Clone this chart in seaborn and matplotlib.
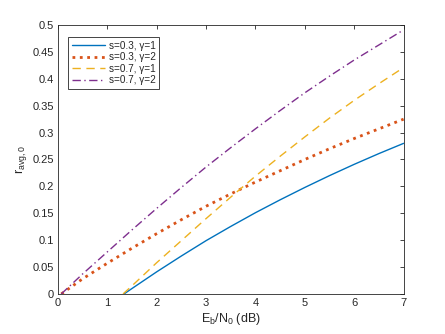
import matplotlib
matplotlib.use("Agg")
import matplotlib.pyplot as plt
import seaborn as sns

x_purple = [0.07, 0.5, 1, 1.5, 2, 2.5, 3, 3.5, 4, 4.5, 5, 5.5, 6, 6.5, 7]
y_purple = [0, 0.037, 0.078, 0.119, 0.159, 0.198, 0.236, 0.272, 0.307, 0.341, 0.374, 0.405, 0.435, 0.463, 0.491]

x_red = [0.07, 0.5, 1, 1.5, 2, 2.5, 3, 3.5, 4, 4.5, 5, 5.5, 6, 6.5, 7]
y_red = [0, 0.028, 0.057, 0.085, 0.112, 0.138, 0.163, 0.186, 0.208, 0.229, 0.250, 0.270, 0.289, 0.307, 0.325]

x_yellow = [1.32, 1.5, 2, 2.5, 3, 3.5, 4, 4.5, 5, 5.5, 6, 6.5, 7]
y_yellow = [0, 0.015, 0.058, 0.099, 0.140, 0.180, 0.219, 0.256, 0.292, 0.327, 0.360, 0.391, 0.421]

x_blue = [1.34, 1.5, 2, 2.5, 3, 3.5, 4, 4.5, 5, 5.5, 6, 6.5, 7]
y_blue = [0, 0.010, 0.041, 0.0705, 0.099, 0.1255, 0.151, 0.175, 0.198, 0.220, 0.241, 0.261, 0.280]

labels = ["s=0.3, γ=1", "s=0.3, γ=2", "s=0.7, γ=1", "s=0.7, γ=2"]
xticks = [0, 1, 2, 3, 4, 5, 6, 7]
yticks = [0, 0.05, 0.1, 0.15, 0.2, 0.25, 0.3, 0.35, 0.4, 0.45, 0.5]
yticklabels = ["0", "0.05", "0.1", "0.15", "0.2", "0.25", "0.3", "0.35", "0.4", "0.45", "0.5"]


def main():
    sns.set_style("white")
    plt.rcParams["font.family"] = ["Liberation Sans", "DejaVu Sans"]
    plt.rcParams["mathtext.fontset"] = "custom"
    plt.rcParams["mathtext.rm"] = "Liberation Sans"
    plt.rcParams["mathtext.it"] = "Liberation Sans:italic"

    fig = plt.figure(figsize=(4.45, 3.34), dpi=100)
    ax = fig.add_axes([0.13, 0.12, 0.777, 0.805])

    sns.lineplot(x=x_blue, y=y_blue, ax=ax, color="#0072BD", linewidth=1.0, label=labels[0])
    sns.lineplot(x=x_red, y=y_red, ax=ax, color="#D95319", linewidth=2.0, linestyle=":", label=labels[1])
    sns.lineplot(x=x_yellow, y=y_yellow, ax=ax, color="#EDB120", linewidth=1.0, linestyle=(0, (6, 4)), label=labels[2])
    sns.lineplot(x=x_purple, y=y_purple, ax=ax, color="#7E2F8E", linewidth=1.0, linestyle=(0, (6, 2.5, 1, 2.5)), label=labels[3])

    ax.set_xlim(0, 7)
    ax.set_ylim(0, 0.5)
    ax.set_xticks(xticks)
    ax.set_yticks(yticks)
    ax.set_yticklabels(yticklabels)
    ax.tick_params(direction="in", length=3, width=0.6, labelsize=8, colors="#262626",
                   top=True, right=True, pad=3)
    for s in ax.spines.values():
        s.set_color("#262626")
        s.set_linewidth(0.6)

    ax.set_xlabel("E$_{\\rm b}$/N$_{\\rm 0}$ (dB)", fontsize=9, color="#262626", labelpad=2)
    ax.set_ylabel("r$_{\\rm avg,0}$", fontsize=9, color="#262626", labelpad=2)

    leg = ax.legend(loc="upper left", bbox_to_anchor=(0.03, 0.955), fontsize=7.2,
                    frameon=True, fancybox=False, framealpha=1, edgecolor="#262626",
                    handlelength=3.3, handletextpad=0.4, labelspacing=0.15,
                    borderpad=0.35, borderaxespad=0)
    leg.get_frame().set_linewidth(0.6)

    fig.savefig("out.png", dpi=100)


if __name__ == "__main__":
    main()
